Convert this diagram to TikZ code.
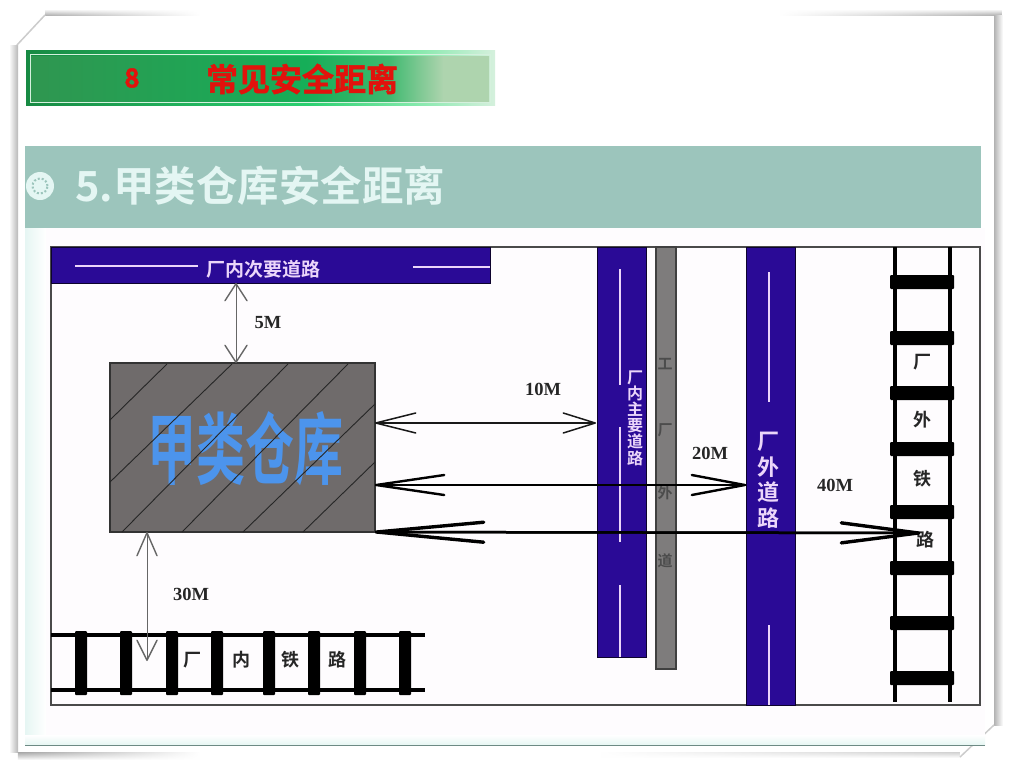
\documentclass[tikz,border=0pt]{standalone}
\usepackage{fontspec}
\usepackage{tikz}
\usetikzlibrary{arrows.meta, fadings}
\setmainfont{Liberation Serif}
\newfontfamily\cjk{Noto Sans CJK SC}
\newfontfamily\cjkb{Noto Sans CJK SC Bold}
\newfontfamily\cjkfat[FakeBold=1.6]{Noto Sans CJK SC Bold}
\definecolor{roadblue}{HTML}{2A0A96}
\definecolor{roadgray}{HTML}{7E7C7C}
\definecolor{headteal}{HTML}{9CC5BC}
\definecolor{paletext}{HTML}{E4F6F3}
\definecolor{paleband}{HTML}{E6F6F3}
\definecolor{palelilac}{HTML}{EBD6FA}
\definecolor{framegray}{HTML}{4A4A4A}
\definecolor{sheetpink}{HTML}{FEFCFE}
\definecolor{storegray}{HTML}{6F6B6B}
\definecolor{storeblue}{HTML}{4C94EC}
\definecolor{bannerdark}{HTML}{178A43}
\definecolor{bannerglow}{HTML}{2AD070}
\definecolor{bannerlight}{HTML}{7FE8A8}
\definecolor{bannerpale}{HTML}{D5F0DD}
\definecolor{bannerleft}{HTML}{2F9650}
\definecolor{bannermid}{HTML}{16AE58}
\definecolor{bannernext}{HTML}{3EB96F}
\definecolor{bannerright}{HTML}{AED4AE}
\definecolor{bannerred}{HTML}{E2120C}
\pgfdeclarehorizontalshading{bannerrim}{100bp}{color(0bp)=(bannerdark); color(25bp)=(bannerdark); color(55bp)=(bannerglow); color(66bp)=(bannerlight); color(75bp)=(bannerpale); color(100bp)=(bannerpale)}
\pgfdeclarehorizontalshading{bannerface}{100bp}{color(0bp)=(bannerleft); color(25bp)=(bannerleft); color(55bp)=(bannermid); color(64bp)=(bannernext); color(70bp)=(bannerright); color(100bp)=(bannerright)}

\tikzset{
  road/.style={fill=roadblue, draw=black!70!roadblue, line width=1pt},
  roadmark/.style={draw=palelilac, line width=2.2pt},
  railbar/.style={draw=black, line width=3.6pt},
  sleeper/.style={fill=black, draw=none, rounded corners=1pt},
  metre/.style={font=\bfseries\fontsize{18.5}{18.5}\selectfont, text=black!85},
  railtext/.style={font=\cjkb\fontsize{18}{18}\selectfont, text=black!85},
  workstext/.style={font=\cjkb\fontsize{15}{15}\selectfont, text=black!70},
  roadtext/.style={font=\cjkb\fontsize{20}{24}\selectfont, text=palelilac, align=center},
  shortarrow/.style={draw=black!60, line width=1pt, {Straight Barb[round, length=17pt, width=22pt, line width=1.4pt]}-{Straight Barb[round, length=17pt, width=22pt, line width=1.4pt]}},
  thinarrow/.style={draw=black!60, line width=1pt, {Straight Barb[round, length=23pt, width=20pt, line width=1.4pt]}-{Straight Barb[round, length=20pt, width=20pt, line width=1.4pt]}},
  midarrow/.style={draw=black!90, line width=1.3pt, {Straight Barb[round, length=40pt, width=20pt, line width=1.5pt]}-{Straight Barb[round, length=32pt, width=20pt, line width=1.5pt]}},
  widearrow/.style={draw=black, line width=1.7pt, {Straight Barb[round, length=68pt, width=20pt, line width=2.4pt]}-{Straight Barb[round, length=53pt, width=20pt, line width=2.4pt]}},
  thickarrow/.style={draw=black, line width=2.5pt, {Straight Barb[round, length=107pt, width=20pt, line width=3.4pt]}-{Straight Barb[round, length=77pt, width=20pt, line width=3.4pt]}},
}

\begin{document}
\begin{tikzpicture}[x=1pt, y=-1pt]
  \useasboundingbox (0, 0) rectangle (1012, 769);
  % sheet and its shadow
  \fill[white] (0, 0) rectangle (1012, 769);
  \shade[top color=white, bottom color=black!30, path fading=east] (45, 9) rectangle (200, 15);
  \shade[top color=white, bottom color=black!30, path fading=west] (780, 9) rectangle (1002, 15);
  \shade[left color=white, right color=black!28] (9, 45) rectangle (18, 752);
  \shade[left color=black!30, right color=white] (994, 15) rectangle (1003, 725);
  \shade[top color=black!35, bottom color=white, path fading=east] (18, 752) rectangle (200, 760);
  \shade[top color=black!18, bottom color=white, path fading=west] (600, 752) rectangle (960, 758);
  \draw[black!20, line width=1.5pt] (17, 45) -- (45, 15);
  \draw[black!20, line width=1.5pt] (994, 725) -- (960, 757);
  \shade[left color=paleband, right color=white] (25, 228) rectangle (46, 745);
  \shade[top color=white, bottom color=paleband] (25, 735) rectangle (985, 745);
  \fill[sheetpink] (46, 228) rectangle (985, 735);
  \draw[headteal!70!black, line width=.8pt] (25, 745) -- (985, 745);
  % title banner
  \shade[shading=bannerrim] (26, 50) rectangle (495, 105);
  \shade[shading=bannerface] (31, 56) rectangle (489, 101);
  \draw[bannerpale, line width=.8pt] (30, 54) rectangle (490, 102);
  \node[text=bannerred] (banneridx) at (132, 78) {\cjkfat\fontsize{26}{26}\selectfont 8};
  \node[text=bannerred] (bannertxt) at (302, 79) {\cjkfat\fontsize{32}{32}\selectfont 常见安全距离};
  % section head
  \fill[headteal] (25, 146) rectangle (981, 228);
  \node[circle, fill=paletext, minimum size=28pt, inner sep=0pt] (headicon) at (40, 186) {};
  \node[circle, draw=headteal, dotted, line width=2pt, minimum size=15pt, inner sep=0pt] at (headicon) {};
  \node[anchor=west, inner sep=0pt, text=paletext] (headtxt) at (75, 186) {\cjkb\fontsize{41.5}{41.5}\selectfont 5.甲类仓库安全距离};
  % drawing frame
  \draw[framegray, line width=1.2pt, fill=sheetpink] (51, 247) rectangle (980, 705);
  % secondary road
  \draw[road] (51, 247) rectangle (490, 283);
  \draw[roadmark] (75, 266) -- (198, 266);
  \draw[roadmark] (413, 267) -- (490, 267);
  \node[roadtext, font=\cjkb\fontsize{19}{19}\selectfont] (minorroad) at (263, 269) {厂内次要道路};
  % main road, works road, outer road
  \draw[road] (597, 247) rectangle (646, 657);
  \draw[roadmark] (620, 269) -- (620, 385);
  \draw[roadmark] (620, 427) -- (620, 542);
  \draw[roadmark] (620, 585) -- (620, 657);
  \node[roadtext, font=\cjkb\fontsize{16}{16.2}\selectfont, text width=18pt, inner sep=0pt] (mainroad) at (635, 418) {厂\\内\\主\\要\\道\\路};
  \draw[fill=roadgray, draw=black!75, line width=1.2pt] (656, 247) rectangle (676, 669);
  \node[workstext] (works1) at (665, 364) {工};
  \node[workstext] (works2) at (665, 430) {厂};
  \node[workstext] (works3) at (665, 493) {外};
  \node[workstext] (works4) at (665, 561) {道};
  \draw[road] (746, 247) rectangle (795, 705);
  \draw[roadmark] (769, 272) -- (769, 402);
  \draw[roadmark] (769, 625) -- (769, 705);
  \node[roadtext, font=\cjkb\fontsize{22}{25.5}\selectfont, text width=24pt, inner sep=0pt] (outerroad) at (768, 480) {厂\\外\\道\\路};
  % outer railway
  \draw[railbar] (895, 247) -- (895, 702);
  \draw[railbar] (950, 247) -- (950, 702);
  \foreach \ty in {282, 338, 393, 449, 512, 568, 623, 678}
    \fill[sleeper] (890, \ty-7) rectangle (954, \ty+7);
  \node[railtext] (outer1) at (922, 362) {厂};
  \node[railtext] (outer2) at (922, 420) {外};
  \node[railtext] (outer3) at (922, 479) {铁};
  \node[railtext] (outer4) at (925, 540) {路};
  % inner railway
  \draw[railbar] (51, 635) -- (425, 635);
  \draw[railbar] (51, 690) -- (425, 690);
  \foreach \tx in {81, 126, 172, 217, 269, 314, 360, 405}
    \fill[sleeper] (\tx-6, 631) rectangle (\tx+6, 695);
  \node[railtext] (inner1) at (192, 660) {厂};
  \node[railtext] (inner2) at (241, 660) {内};
  \node[railtext] (inner3) at (290, 660) {铁};
  \node[railtext] (inner4) at (337, 660) {路};
  % warehouse
  \node[fill=storegray, draw=black!80, line width=1.2pt, minimum width=265pt, minimum height=169pt, inner sep=0pt] (store) at (242.5, 447.5) {};
  \node[text=storeblue, yscale=1.6, transform shape, inner sep=0pt] (storetxt) at (245, 449) {\cjkb\fontsize{49}{49}\selectfont 甲类仓库};
  \draw[black!85, line width=.9pt] (110, 420) -- (167, 364) (110, 482) -- (232, 364) (122, 532) -- (288, 364)
    (182, 532) -- (348, 364) (243, 532) -- (375, 404) (303, 532) -- (375, 462);
  % distances
  \coordinate (c5a) at (236, 283);
  \coordinate (c5b) at (236, 363);
  \coordinate (c30a) at (147, 532);
  \coordinate (c30b) at (147, 661);
  \coordinate (c10a) at (375, 423);
  \coordinate (c10b) at (596, 423);
  \coordinate (c20a) at (375, 485);
  \coordinate (c20b) at (746, 485);
  \coordinate (c40a) at (375, 532);
  \coordinate (c40b) at (920, 533);
  \draw[shortarrow] (c5a) -- (c5b);
  \draw[thinarrow] (c30a) -- (c30b);
  \draw[midarrow] (c10a) -- (c10b);
  \draw[widearrow] (c20a) -- (c20b);
  \draw[line width=1.7pt] (c20a) -- (c20b);
  \draw[thickarrow] (c40a) -- (c40b);
  \draw[line width=2.5pt] (c40a) -- (c40b);
  \node[metre] (m5) at (268, 323) {5M};
  \node[metre] (m30) at (191, 594) {30M};
  \node[metre] (m10) at (543, 389) {10M};
  \node[metre] (m20) at (710, 453) {20M};
  \node[metre] (m40) at (835, 485) {40M};
\end{tikzpicture}
\end{document}
